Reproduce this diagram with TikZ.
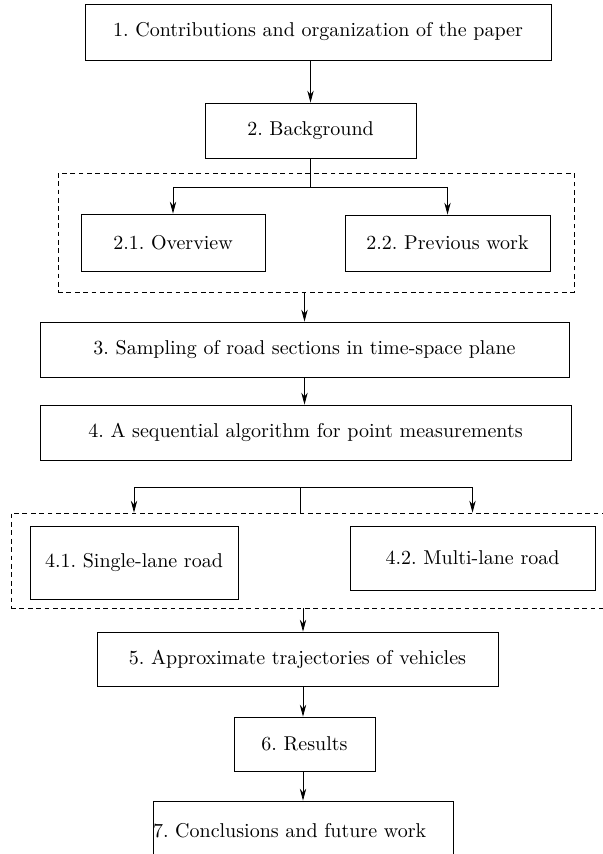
\documentclass[tikz,border=0pt]{standalone}
\usepackage{tikz}
\usetikzlibrary{shapes,arrows,arrows.meta,positioning}
\tikzstyle{sbox} = [rectangle, draw, inner sep = 0pt]
\tikzstyle{gbox} = [rectangle, draw, dash pattern=on 2.4pt off 1.8pt, inner sep = 0pt]
\tikzstyle{line} = [draw]
\tikzstyle{aline} = [draw, -{Stealth[length=6pt, width=3.2pt, inset=2pt]}]

\begin{document}
\frenchspacing
\begin{tikzpicture}[x=1pt, y=-1pt]
			\useasboundingbox (0,0) rectangle (301,427);
			% groups
			\node [gbox, minimum width=258pt, minimum height=59.5pt] (g2) at (158, 116.25) {};
			\node [gbox, minimum width=299.5pt, minimum height=47.5pt] (g4) at (155.25, 280.25) {};

			\node [sbox, minimum width=233pt, minimum height=28pt] (b1) at (159, 16) {1. Contributions and organization of the paper};
			\node [sbox, minimum width=105.5pt, minimum height=27.5pt] (b2) at (155.25, 65.25) {2. Background};
			\node [sbox, minimum width=92pt, minimum height=28.5pt] (b21) at (86.5, 121.25) {2.1. Overview};
			\node [sbox, minimum width=102.5pt, minimum height=28pt] (b22) at (223.75, 121.5) {2.2. Previous work};
			\node [sbox, minimum width=264.5pt, minimum height=27.5pt] (b3) at (152.25, 174.75) {3. Sampling of road sections in time-space plane};
			\node [sbox, minimum width=265.5pt, minimum height=27.5pt] (b4) at (152.75, 216.25) {4. A sequential algorithm for point measurements};
			\node [sbox, minimum width=104pt, minimum height=36.5pt] (b41) at (67, 281.25) {4.1. Single-lane road};
			\node [sbox, minimum width=122.5pt, minimum height=32pt] (b42) at (236.25, 279) {4.2. Multi-lane road};
			\node [sbox, minimum width=200.5pt, minimum height=27pt] (b5) at (148.75, 329.5) {5. Approximate trajectories of vehicles};
			\node [sbox, minimum width=70.5pt, minimum height=27pt] (b6) at (152.25, 372) {6. Results};
			\node [sbox, text width=150pt, align=left, minimum height=29.5pt] (b7) at (151.5, 415.25) {7. Conclusions and future work};

			\coordinate (j2) at (155.25, 93.5);
			\coordinate (j4) at (150, 243.5);

			\path [aline] (b1.south -| b2) -- (b2);
			\path [line] (b2) -- (j2);
			\path [line] (j2 -| b21) -- (j2 -| b22);
			\path [aline] (j2 -| b21) -- (b21);
			\path [aline] (j2 -| b22) -- (b22);
			\path [aline] (g2.south -| b3) -- (b3);
			\path [aline] (b3.south -| b3) -- (b4.north -| b3);
			\path [line] (j4 -| b41) -- (j4 -| b42);
			\path [line] (j4) -- (j4 |- g4.north);
			\path [aline] (j4 -| b41) -- (b41 |- g4.north);
			\path [aline] (j4 -| b42) -- (b42 |- g4.north);
			\path [aline] (g4.south -| b7) -- (b5.north -| b7);
			\path [aline] (b5.south -| b7) -- (b6.north -| b7);
			\path [aline] (b6.south -| b7) -- (b7);
		\end{tikzpicture}
\end{document}
